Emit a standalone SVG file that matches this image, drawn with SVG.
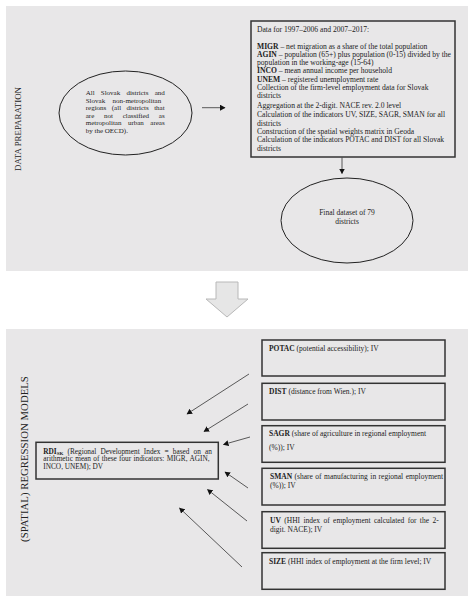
<svg xmlns="http://www.w3.org/2000/svg" width="474" height="601" viewBox="0 0 474 601">
<style>
text{font-family:"Liberation Serif","Times New Roman",serif;fill:#222;font-size:7.5px}
.b{font-weight:bold}
text.t{font-size:7.6px}
text.e{font-size:7px}
text.s1{font-size:8.9px}
text.s2{font-size:10.8px}
text.r{font-size:7.3px}
.sub{font-size:5px}
.box{fill:none;stroke:#333;stroke-width:1.5}
.ell{fill:none;stroke:#222;stroke-width:1}
.con{stroke:#333;stroke-width:0.8;fill:none;marker-end:url(#ah)}
</style>
<defs>
<marker id="ah" markerWidth="6" markerHeight="6" refX="5" refY="3" orient="auto" markerUnits="userSpaceOnUse">
<path d="M0,0 L5.5,3 L0,6 Z" fill="#111"/>
</marker>
</defs>
<rect x="0" y="0" width="474" height="601" fill="#fff"/>
<rect x="6" y="6" width="462" height="265" fill="#e8e7e8"/>
<rect x="6" y="329" width="462" height="267" fill="#e8e7e8"/>
<g id="label-prep"><text class="s1" transform="translate(21.3,129) rotate(-90)" text-anchor="middle">DATA PREPARATION</text></g>
<g id="label-models"><text class="s2" transform="translate(27.5,459) rotate(-90)" text-anchor="middle">(SPATIAL) REGRESSION MODELS</text></g>
<g id="n-districts">
<ellipse class="ell" cx="125.5" cy="113" rx="66.5" ry="42"/>
<text class="e" x="85.7" y="95" word-spacing="4.4">All Slovak districts and</text>
<text class="e" x="85.7" y="102.5" word-spacing="5.7">Slovak non-metropolitan</text>
<text class="e" x="85.7" y="110" word-spacing="3.7">regions (all districts that</text>
<text class="e" x="85.7" y="117.5" word-spacing="8">are not classified as</text>
<text class="e" x="85.7" y="125" word-spacing="4.7">metropolitan urban areas</text>
<text class="e" x="85.7" y="132.5">by the OECD).</text>
</g>
<g id="n-data">
<rect class="box" x="251" y="21" width="204" height="136"/>
<text class="t" x="257" y="32">Data for 1997–2006 and 2007–2017:</text>
<text class="t" x="257" y="48.5"><tspan class="b">MIGR</tspan> – net migration as a share of the total population</text>
<text class="t" x="257" y="56.5"><tspan class="b">AGIN</tspan> – population (65+) plus population (0-15) divided by the</text>
<text class="t" x="257" y="64.5">population in the working-age (15-64)</text>
<text class="t" x="257" y="73"><tspan class="b">INCO</tspan> – mean annual income per household</text>
<text class="t" x="257" y="81.5"><tspan class="b">UNEM</tspan> – registered unemployment rate</text>
<text class="t" x="257" y="90">Collection of the firm-level employment data for Slovak</text>
<text class="t" x="257" y="98.3">districts</text>
<text class="t" x="257" y="108">Aggregation at the 2-digit. NACE rev. 2.0 level</text>
<text class="t" x="257" y="116.7">Calculation of the indicators UV, SIZE, SAGR, SMAN for all</text>
<text class="t" x="257" y="125.5">districts</text>
<text class="t" x="257" y="133.5">Construction of the spatial weights matrix in Geoda</text>
<text class="t" x="257" y="142.3">Calculation of the indicators POTAC and DIST for all Slovak</text>
<text class="t" x="257" y="151">districts</text>
</g>
<g id="n-final">
<ellipse class="ell" cx="347" cy="220.5" rx="66" ry="42.5"/>
<text x="347" y="215" text-anchor="middle">Final dataset of 79</text>
<text x="347" y="224" text-anchor="middle">districts</text>
</g>
<g id="n-transition">
<polygon points="216,282 238,282 238,299 248,299 227,317 206,299 216,299" fill="#e6e6e6" stroke="#b8b8b8" stroke-width="1"/>
</g>
<g id="n-rdi">
<rect class="box" x="36" y="442.3" width="182.3" height="36.7"/>
<text class="r" x="43.3" y="453.5" word-spacing="2.3"><tspan class="b">RDI</tspan><tspan class="b sub" dy="1">SK</tspan><tspan dy="-1"> (Regional Development Index = based on an</tspan></text>
<text class="r" x="43.3" y="461.2" word-spacing="0.5">arithmetic mean of these four indicators: MIGR, AGIN,</text>
<text class="r" x="43.3" y="468.9">INCO, UNEM); DV</text>
</g>
<g id="n-potac">
<rect class="box" x="262" y="340" width="183" height="36"/>
<text x="269" y="351"><tspan class="b">POTAC</tspan> (potential accessibility); IV</text>
</g>
<g id="n-dist">
<rect class="box" x="262" y="383.3" width="183" height="36.7"/>
<text x="269" y="394"><tspan class="b">DIST</tspan> (distance from Wien.); IV</text>
</g>
<g id="n-sagr">
<rect class="box" x="262" y="425.7" width="183" height="36.6"/>
<text x="269" y="436"><tspan class="b">SAGR</tspan> (share of agriculture in regional employment</text>
<text x="269" y="450">(%)); IV</text>
</g>
<g id="n-sman">
<rect class="box" x="262" y="468.3" width="183" height="36.7"/>
<text x="270" y="479" word-spacing="0.6"><tspan class="b">SMAN</tspan> (share of manufacturing in regional employment</text>
<text x="270" y="488">(%)); IV</text>
</g>
<g id="n-uv">
<rect class="box" x="262" y="511.7" width="183" height="36.6"/>
<text x="270" y="523" word-spacing="1.5"><tspan class="b">UV</tspan> (HHI index of employment calculated for the 2-</text>
<text x="270" y="532">digit. NACE); IV</text>
</g>
<g id="n-size">
<rect class="box" x="262" y="552.7" width="183" height="36.6"/>
<text x="269" y="564"><tspan class="b">SIZE</tspan> (HHI index of employment at the firm level; IV</text>
</g>
<g id="connectors">
<line class="con" x1="202" y1="107.7" x2="225" y2="107.7"/>
<line class="con" x1="342" y1="157.5" x2="342" y2="173.5"/>
<line class="con" x1="249" y1="374" x2="187" y2="414"/>
<line class="con" x1="248" y1="404" x2="204" y2="431.5"/>
<line class="con" x1="250" y1="437" x2="223.5" y2="444.5"/>
<line class="con" x1="248" y1="488" x2="225" y2="472"/>
<line class="con" x1="247" y1="521" x2="207.5" y2="489.5"/>
<line class="con" x1="242" y1="567" x2="179.5" y2="508"/>
</g>
</svg>
